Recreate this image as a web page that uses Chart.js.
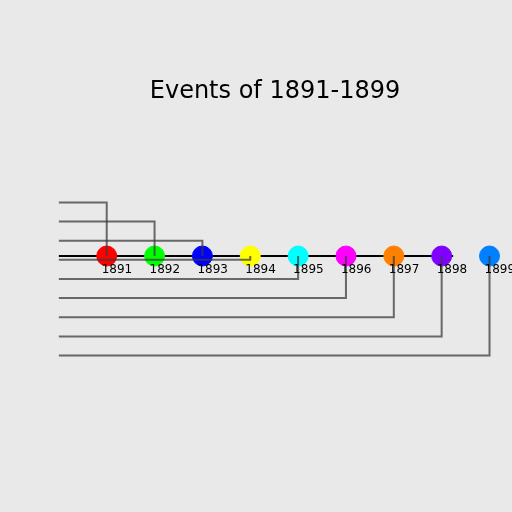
<!DOCTYPE html>
<html>
<head>
<script src="https://cdn.jsdelivr.net/npm/chart.js@4"></script>
<style>
  body { margin: 0; background: #e9e9e9; }
  #wrap { width: 512px; height: 512px; }
</style>
</head>
<body>
<div id="wrap"><canvas id="timeline"></canvas></div>
<script>
const years = [1891, 1892, 1893, 1894, 1895, 1896, 1897, 1898, 1899];
const levels = [56, 36, 16, -4, -24, -44, -64, -84, -104];
const colors = ["#ff0000", "#00ff00", "#0000ff", "#ffff00", "#00ffff", "#ff00ff", "#ff8000", "#8000ff", "#0080ff"];
const lineStart = 1890;
const lineEnd = 1898.24;
const titleText = "Events of 1891-1899";

// connectors: from left edge across to the year, then down/up to the axis
const connectors = years.map((yr, i) => ({
  type: "line",
  data: [{ x: lineStart, y: levels[i] }, { x: yr, y: levels[i] }, { x: yr, y: 0 }],
  borderColor: "rgba(60,60,60,0.75)",
  borderWidth: 2,
  pointRadius: 0,
  order: 1,
}));

// draw title and year labels
const textPlugin = {
  id: "texts",
  afterDatasetsDraw(chart) {
    const c = chart.ctx;
    const xs = chart.scales.x;
    const ys = chart.scales.y;
    c.save();
    c.fillStyle = "#000";
    c.font = "24px 'DejaVu Sans'";
    c.textAlign = "center";
    c.textBaseline = "middle";
    c.fillText(titleText, 275, 92);
    c.font = "12px 'DejaVu Sans'";
    c.textAlign = "left";
    years.forEach((yr) => {
      c.fillText(String(yr), xs.getPixelForValue(yr) - 5, ys.getPixelForValue(-15));
    });
    c.restore();
  },
};

new Chart(document.getElementById("timeline"), {
  type: "scatter",
  data: {
    datasets: [
      {
        type: "line",
        data: [{ x: lineStart, y: 0 }, { x: lineEnd, y: 0 }],
        borderColor: "#000",
        borderWidth: 2,
        pointRadius: 0,
        order: 3,
      },
      {
        data: years.map((yr) => ({ x: yr, y: 0 })),
        backgroundColor: colors,
        borderColor: colors,
        pointRadius: 10,
        order: 2,
      },
      ...connectors,
    ],
  },
  options: {
    responsive: true,
    maintainAspectRatio: false,
    animation: false,
    layout: { padding: 0 },
    plugins: { legend: { display: false }, tooltip: { enabled: false } },
    scales: {
      x: { type: "linear", min: 1889, max: 1899.24, display: false },
      y: { type: "linear", min: -256, max: 256, display: false },
    },
  },
  plugins: [textPlugin],
});
</script>
</body>
</html>
